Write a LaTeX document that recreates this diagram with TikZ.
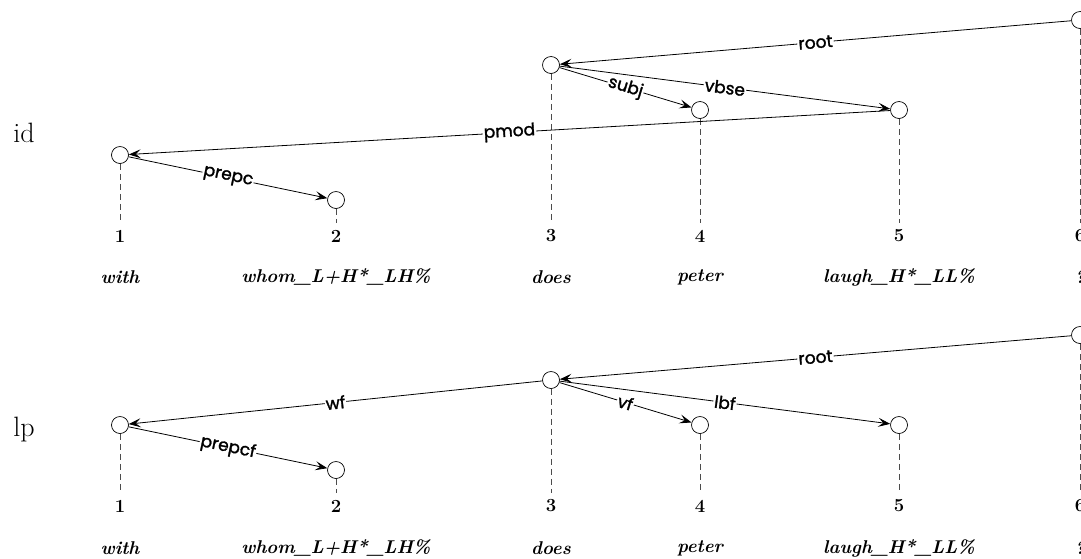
\documentclass[tikz,border=0pt]{standalone}
\usepackage{fontspec}
\newfontfamily\edgefont{Poppins}[FakeBold=1.6]
\usetikzlibrary{arrows.meta}

\begin{document}
\begin{tikzpicture}[x=1pt,y=-1pt,
  wnode/.style={circle,draw,fill=white,minimum size=17pt,inner sep=0pt,line width=0.7pt},
  dep/.style={-{Stealth[length=12pt,width=9pt,inset=5pt]},line width=0.8pt},
  elab/.style={fill=white,inner sep=1pt,sloped,font=\edgefont\fontsize{17}{17}\selectfont},
  proj/.style={dashed,dash pattern=on 6pt off 4pt,line width=0.7pt,black!70,shorten >=7pt},
  num/.style={inner sep=0pt,font=\bfseries\fontsize{18.5}{18.5}\selectfont},
  wrd/.style={inner sep=0pt,font=\bfseries\itshape\fontsize{18.5}{18.5}\selectfont},
  dim/.style={inner sep=0pt,font=\fontsize{28}{28}\selectfont}]
\useasboundingbox (0,0) rectangle (1081,558);

% ---------------- ID dimension ----------------
\node[dim] (idlab) at (24,133) {id};
\node[wnode] (i1) at (120,155) {};
\node[wnode] (i2) at (336,200) {};
\node[wnode] (i3) at (551,65) {};
\node[wnode] (i4) at (700,110) {};
\node[wnode] (i5) at (899,110) {};
\node[wnode] (i6) at (1080,20) {};

\foreach \k/\x in {1/120,2/336,3/551,4/700,5/899,6/1080}
  \node[num] (in\k) at (\x,236) {\k};
\node[wrd] (iw1) at (120,277) {with};
\node[wrd] (iw2) at (336,277) {whom\_L+H*\_LH\%};
\node[wrd] (iw3) at (551,277) {does};
\node[wrd] (iw4) at (700,277) {peter};
\node[wrd] (iw5) at (899,277) {laugh\_H*\_LL\%};
\node[wrd] (iw6) at (1080,277) {?};

\foreach \k in {1,...,6}
  \draw[proj] (i\k.south) -- (in\k.north);

\draw[dep] (i6) -- node[elab]{root} (i3);
\draw[dep] (i3) -- node[elab]{subj} (i4);
\draw[dep] (i3) -- node[elab]{vbse} (i5);
\draw[dep] (i5) -- node[elab]{pmod} (i1);
\draw[dep] (i1) -- node[elab]{prepc} (i2);

% ---------------- LP dimension ----------------
\node[dim] (lplab) at (24,430) {lp};
\node[wnode] (l1) at (120,425) {};
\node[wnode] (l2) at (336,470) {};
\node[wnode] (l3) at (551,380) {};
\node[wnode] (l4) at (700,425) {};
\node[wnode] (l5) at (899,425) {};
\node[wnode] (l6) at (1080,335) {};

\foreach \k/\x in {1/120,2/336,3/551,4/700,5/899,6/1080}
  \node[num] (ln\k) at (\x,506) {\k};
\node[wrd] (lw1) at (120,548) {with};
\node[wrd] (lw2) at (336,548) {whom\_L+H*\_LH\%};
\node[wrd] (lw3) at (551,548) {does};
\node[wrd] (lw4) at (700,548) {peter};
\node[wrd] (lw5) at (899,548) {laugh\_H*\_LL\%};
\node[wrd] (lw6) at (1080,548) {?};

\foreach \k in {1,...,6}
  \draw[proj] (l\k.south) -- (ln\k.north);

\draw[dep] (l6) -- node[elab]{root} (l3);
\draw[dep] (l3) -- node[elab]{wf} (l1);
\draw[dep] (l3) -- node[elab]{vf} (l4);
\draw[dep] (l3) -- node[elab]{lbf} (l5);
\draw[dep] (l1) -- node[elab]{prepcf} (l2);
\end{tikzpicture}
\end{document}
